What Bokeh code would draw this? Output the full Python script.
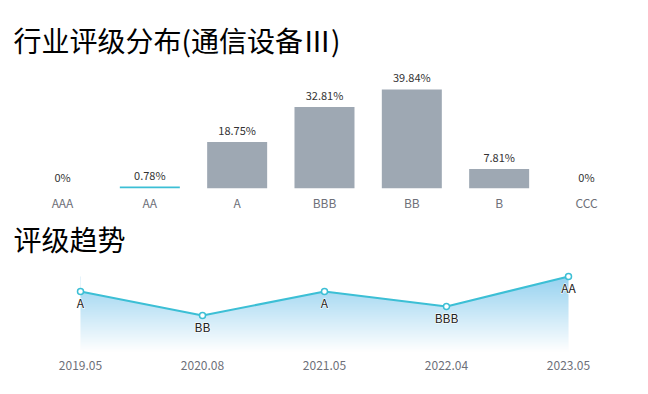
import numpy as np
from bokeh.plotting import figure
from bokeh.layouts import column
from bokeh.models import ColumnDataSource, Range1d, FixedTicker, Label
from bokeh.core.properties import value
from bokeh.embed import file_html
from bokeh.resources import INLINE

# ---- data ----
categories = ["AAA", "AA", "A", "BBB", "BB", "B", "CCC"]
shares = [0, 0.78, 18.75, 32.81, 39.84, 7.81, 0]
current_rating = "AA"

trend_dates = ["2019.05", "2020.08", "2021.05", "2022.04", "2023.05"]
trend_ratings = ["A", "BB", "A", "BBB", "AA"]
rating_score = {"AA": 4, "A": 3, "BBB": 2, "BB": 1.4}

title1 = "行业评级分布(通信设备Ⅲ)"
title2 = "评级趋势"

FONT = "Noto Sans CJK SC"
GREY = "#6e7079"
BAR = "#9ea8b3"
CYAN = "#3cbfd5"

W = 640
H1, H2 = 220, 170
AX1, AX2 = 32, 39          # bottom (axis) borders

# ---- figure 1: distribution ----
cat_idx = list(range(len(categories)))
band1 = 87.33               # px per category
first1 = 62                 # px of first category centre
x1_start = -first1 / band1
x1_end = x1_start + W / band1
px_per_pct = 2.485
y1_end = (H1 - AX1) / px_per_pct

src1 = ColumnDataSource(dict(
    x=cat_idx, y=shares,
    lbl=[f"{v:g}%" for v in shares],
    col=[CYAN if c == current_rating else BAR for c in categories],
))
p1 = figure(width=W, height=H1, x_range=Range1d(x1_start, x1_end),
            y_range=Range1d(0, y1_end), output_backend="svg", toolbar_location=None,
            min_border_left=0, min_border_right=0, min_border_top=0, min_border_bottom=AX1)
p1.vbar(x="x", top="y", width=60 / band1, fill_color="col", line_color=None, source=src1)
p1.text(x="x", y="y", text="lbl", source=src1, text_align="center", text_baseline="bottom",
        y_offset=-4, text_font=value(FONT), text_font_size="11px", text_color="#333333")
p1.add_layout(Label(x=13, y=(H1 - AX1) - 39, x_units="screen", y_units="screen", text=title1,
                    text_font=FONT, text_font_size="28px", text_color="#000000",
                    text_baseline="middle"))
p1.xaxis.ticker = FixedTicker(ticks=cat_idx)
p1.xaxis.major_label_overrides = {i: c for i, c in enumerate(categories)}
p1.xaxis.major_label_standoff = 5

# ---- figure 2: trend ----
idx = list(range(len(trend_dates)))
scores = [rating_score[r] for r in trend_ratings]
band2 = 122.0
first2 = 80
x2_start = -first2 / band2
x2_end = x2_start + W / band2
px_per_unit = 15.0
y_lo = -1.0
y_hi = y_lo + (H2 - AX2) / px_per_unit
src2 = ColumnDataSource(dict(x=idx, y=scores, lbl=trend_ratings))

p2 = figure(width=W, height=H2, x_range=Range1d(x2_start, x2_end),
            y_range=Range1d(y_lo, y_hi), output_backend="svg", toolbar_location=None,
            min_border_left=0, min_border_right=0, min_border_top=0, min_border_bottom=AX2)

# vertical gradient under the line: gradient image, masked above the line with white
top_s = max(scores)
n_rows = 200
t = np.linspace(0.0, 1.0, n_rows)[:, None]          # 0 at bottom, 1 at top
c_top = np.array([150, 210, 240])
c_bot = np.array([255, 255, 255])
rgb = (c_bot + (c_top - c_bot) * t).astype(np.uint32)
img = np.empty((n_rows, 1), dtype=np.uint32)
view = img.view(dtype=np.uint8).reshape((n_rows, 1, 4))
view[:, :, 0] = rgb[:, 0:1]
view[:, :, 1] = rgb[:, 1:2]
view[:, :, 2] = rgb[:, 2:3]
view[:, :, 3] = 255
p2.image_rgba(image=[img], x=min(idx), y=y_lo, dw=max(idx) - min(idx), dh=top_s - y_lo)
p2.varea(x=idx, y1=scores, y2=y_hi, fill_color="white")

p2.line(x="x", y="y", source=src2, line_color=CYAN, line_width=2)
p2.scatter(x="x", y="y", source=src2, size=6, fill_color="white", line_color=CYAN, line_width=1.5)
p2.text(x="x", y="y", text="lbl", source=src2, text_align="center", text_baseline="top",
        y_offset=2, text_font=value(FONT), text_font_size="12px", text_color="white",
        text_outline_color="white")
p2.text(x="x", y="y", text="lbl", source=src2, text_align="center", text_baseline="top",
        y_offset=2, text_font=value(FONT), text_font_size="12px", text_color="#222222")
p2.add_layout(Label(x=13, y=(H2 - AX2) - 18, x_units="screen", y_units="screen", text=title2,
                    text_font=FONT, text_font_size="28px", text_color="#000000",
                    text_baseline="middle"))

p2.xaxis.ticker = FixedTicker(ticks=idx)
p2.xaxis.major_label_overrides = {i: d for i, d in enumerate(trend_dates)}
p2.xaxis.major_label_standoff = 9

for p in (p1, p2):
    p.outline_line_color = None
    p.grid.visible = False
    p.yaxis.visible = False
    p.xaxis.axis_line_color = None
    p.xaxis.major_tick_line_color = None
    p.xaxis.minor_tick_line_color = None
    p.xaxis.major_tick_out = 0
    p.xaxis.major_tick_in = 0
    p.xaxis.major_label_text_font = FONT
    p.xaxis.major_label_text_font_size = "12px"
    p.xaxis.major_label_text_color = GREY
    p.background_fill_color = "white"
    p.border_fill_color = "white"

layout = column(p1, p2, spacing=0)
open("out.html", "w").write(file_html(layout, INLINE))
